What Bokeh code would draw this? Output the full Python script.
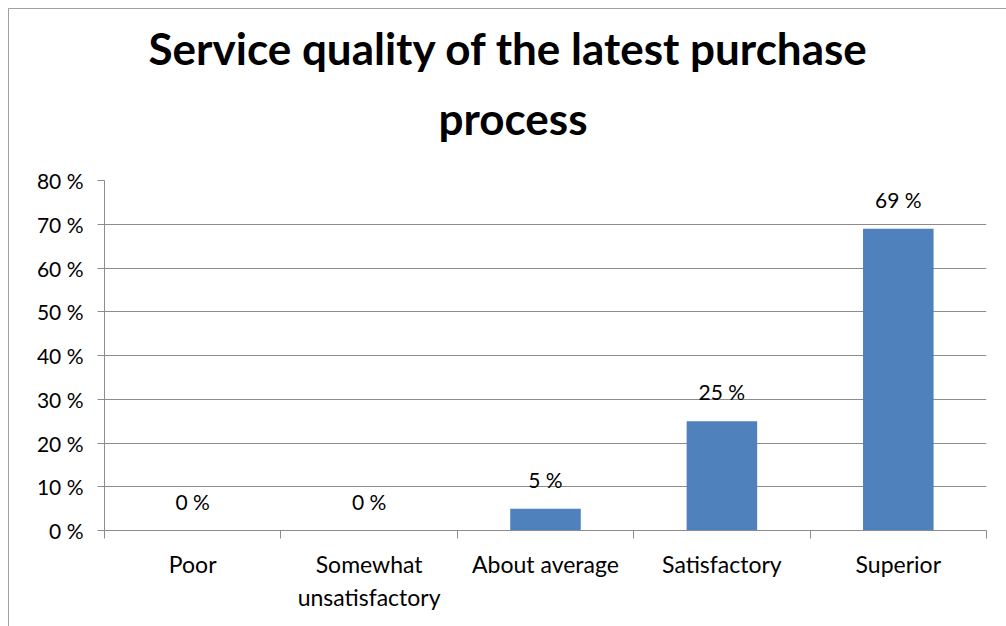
from bokeh.plotting import figure
from bokeh.models import Range1d, FixedTicker, Title, ColumnDataSource
from bokeh.core.properties import value
from bokeh.embed import file_html
from bokeh.resources import INLINE

title_lines = ["Service quality of the latest purchase", "process"]
categories = ["Poor", "Somewhat\nunsatisfactory", "About average", "Satisfactory", "Superior"]
values = [0, 0, 5, 25, 69]
value_labels = ["0 %", "0 %", "5 %", "25 %", "69 %"]
y_ticks = [0, 10, 20, 30, 40, 50, 60, 70, 80]
y_tick_labels = ["0 %", "10 %", "20 %", "30 %", "40 %", "50 %", "60 %", "70 %", "80 %"]

FONT = "Lato"
GRID = "#8c8c8c"
BAR = "#4f81bd"

xc = [i + 0.5 for i in range(len(categories))]
src = ColumnDataSource(dict(x=xc, top=values, label=value_labels))

p = figure(width=998, height=618, output_backend="svg", toolbar_location=None,
           x_range=Range1d(0, len(categories)), y_range=Range1d(0, 80))
p.title = None
p.min_border_left = 95
p.min_border_right = 21
p.min_border_top = 171
p.min_border_bottom = 97
p.outline_line_color = None
p.background_fill_color = "white"
p.border_fill_color = "white"
p.styles = {"margin-left": "8px", "margin-top": "8px",
            "border-left": "1px solid #a0a0a0", "border-top": "1px solid #a0a0a0"}

p.vbar(x="x", top="top", bottom=0, width=0.4, source=src, fill_color=BAR, line_color=None)
p.text(x="x", y="top", text="label", source=src, text_align="center", text_baseline="bottom",
       y_offset=-17, text_font=value(FONT), text_font_size="21px", text_color="black")

t2 = Title(text=title_lines[1], align="left", text_font=FONT, text_font_size="44px",
           text_font_style="bold", text_color="black", offset=334, standoff=74)
t1 = Title(text=title_lines[0], align="left", text_font=FONT, text_font_size="44px",
           text_font_style="bold", text_color="black", offset=44, standoff=-43)
p.add_layout(t2, "above")
p.add_layout(t1, "above")

# y axis
p.yaxis.ticker = FixedTicker(ticks=y_ticks)
p.yaxis.major_label_overrides = {t_: l for t_, l in zip(y_ticks, y_tick_labels)}
p.yaxis.major_label_text_font = FONT
p.yaxis.major_label_text_font_size = "21px"
p.yaxis.major_label_text_color = "black"
p.yaxis.major_label_standoff = 14
p.yaxis.axis_line_color = GRID
p.yaxis.major_tick_line_color = GRID
p.yaxis.major_tick_in = 0
p.yaxis.major_tick_out = 7
p.yaxis.minor_tick_line_color = None

# x axis
p.xaxis.ticker = FixedTicker(ticks=xc, minor_ticks=list(range(len(categories) + 1)))
p.xaxis.major_label_overrides = {x_: c for x_, c in zip(xc, categories)}
p.xaxis.major_label_text_font = FONT
p.xaxis.major_label_text_font_size = "23px"
p.xaxis.major_label_text_color = "black"
p.xaxis.major_label_standoff = 11
p.xaxis.axis_line_color = GRID
p.xaxis.major_tick_line_color = None
p.xaxis.minor_tick_line_color = GRID
p.xaxis.minor_tick_in = 0
p.xaxis.minor_tick_out = 8

p.xgrid.grid_line_color = None
p.ygrid.grid_line_color = GRID
p.ygrid.grid_line_width = 1

open("out.html", "w").write(file_html(p, INLINE))
